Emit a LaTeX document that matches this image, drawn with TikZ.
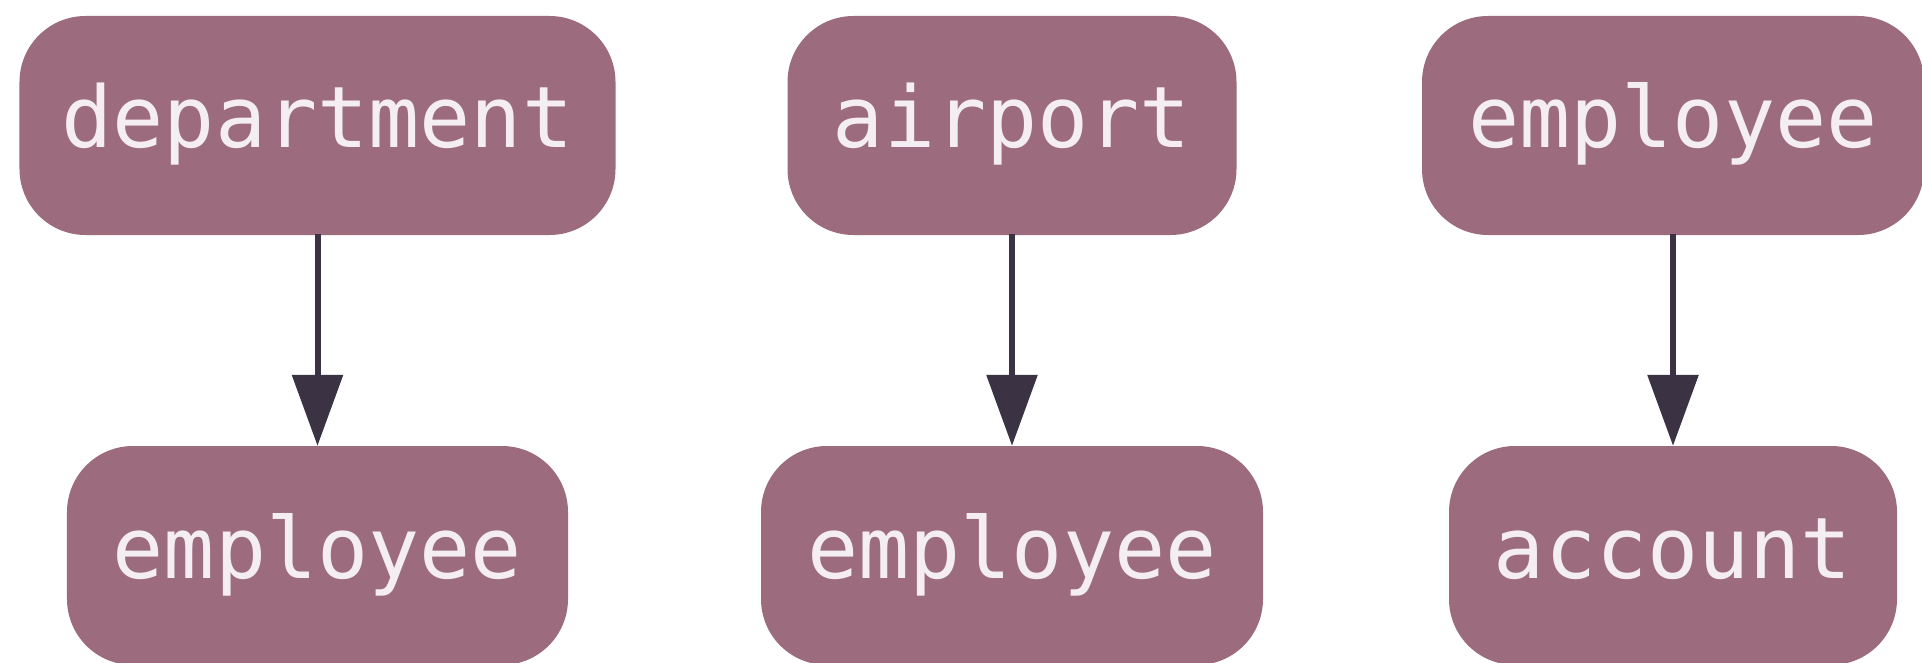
\documentclass[tikz,border=0pt]{standalone}
\usepackage{fontspec}
\setmonofont{DejaVu Sans Mono}
\usetikzlibrary{arrows.meta}
\definecolor{boxfill}{HTML}{9D6B7E}
\definecolor{boxtext}{HTML}{F4EEF2}
\definecolor{edgecol}{HTML}{3B3344}
\tikzset{
  entity/.style={draw=none, fill=boxfill, rounded corners=66bp, inner sep=0pt,
    minimum height=219bp, text=boxtext, text height=45bp, text depth=0pt,
    font=\ttfamily\fontsize{85bp}{100bp}\selectfont},
  link/.style={draw=edgecol, line width=6bp, -{Triangle[width=50bp,length=71bp]}, shorten <=-1bp}
}
\begin{document}
\begin{tikzpicture}[x=1bp,y=-1bp]
\useasboundingbox (0,0) rectangle (1922,663);
\node[entity, minimum width=596bp] (dep) at (317.5,125.5) {department};
\node[entity, minimum width=501bp] (emp1) at (317.5,555.5) {employee};
\node[entity, minimum width=449bp] (air) at (1012,125.5) {airport};
\node[entity, minimum width=502bp] (emp2) at (1012,555.5) {employee};
\node[entity, minimum width=502bp] (emp3) at (1673,125.5) {employee};
\node[entity, minimum width=448bp] (acc) at (1673,555.5) {account};
\draw[link] (dep.south) -- (emp1.north);
\draw[link] (air.south) -- (emp2.north);
\draw[link] (emp3.south) -- (acc.north);
\end{tikzpicture}
\end{document}
